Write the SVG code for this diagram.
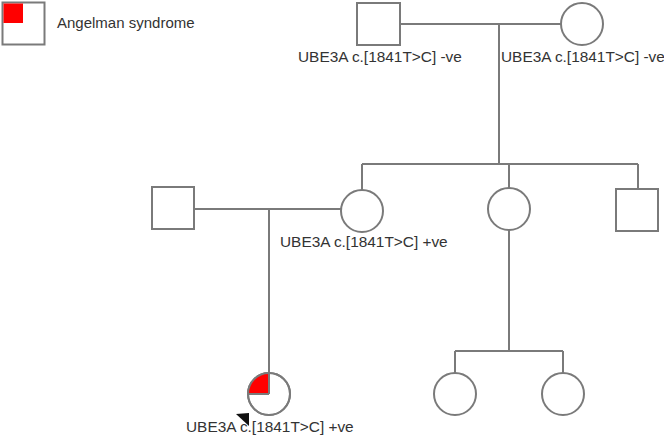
<svg xmlns="http://www.w3.org/2000/svg" width="664" height="437" viewBox="0 0 664 437">
<style>
.s{fill:#fff;stroke:#7a7a7a;stroke-width:2}
.l{fill:none;stroke:#7a7a7a;stroke-width:2}
.t{font-family:"Liberation Sans",Arial,sans-serif;font-size:15px;fill:#333}
.u{font-size:15.4px}
.r{fill:#ff0000}
</style>
<rect width="664" height="437" fill="#fff"/>
<g id="legend">
<rect class="s" x="2.5" y="2.5" width="42" height="42"/>
<rect class="r" x="3.5" y="3.5" width="19.5" height="19.5"/>
<text class="t" x="57" y="28">Angelman syndrome</text>
</g>
<g id="connectors">
<path class="l" d="M400,24H561 M499,24V164 M362,164H638 M362,164V191 M509,164V188 M638,164V189"/>
<path class="l" d="M194,209H341 M269,209V373"/>
<path class="l" d="M509,230V351 M455,351H563 M455,351V373 M563,351V373"/>
</g>
<g id="father">
<rect class="s" x="357" y="3" width="43" height="42"/>
<text class="t u" x="298" y="62">UBE3A c.[1841T&gt;C] -ve</text>
</g>
<g id="mother">
<circle class="s" cx="582" cy="24" r="21"/>
<text class="t u" x="501" y="62">UBE3A c.[1841T&gt;C] -ve</text>
</g>
<g id="spouse">
<rect class="s" x="152" y="187" width="42" height="42"/>
</g>
<g id="daughter1">
<circle class="s" cx="362" cy="211" r="21"/>
<text class="t u" x="280" y="247">UBE3A c.[1841T&gt;C] +ve</text>
</g>
<g id="daughter2">
<circle class="s" cx="509" cy="209" r="21"/>
</g>
<g id="son">
<rect class="s" x="616" y="189" width="42" height="42"/>
</g>
<g id="proband">
<circle class="s" cx="269" cy="394" r="21"/>
<path class="r" d="M269,394V373A21,21 0 0 0 248,394Z"/>
<path class="l" d="M269,394V373 M269,394H248"/>
<circle class="l" cx="269" cy="394" r="21"/>
<polygon points="236,414 249,413 249,426" fill="#111"/>
<text class="t u" x="186" y="432">UBE3A c.[1841T&gt;C] +ve</text>
</g>
<g id="grandchild1">
<circle class="s" cx="455" cy="394" r="21"/>
</g>
<g id="grandchild2">
<circle class="s" cx="563" cy="394" r="21"/>
</g>
</svg>
